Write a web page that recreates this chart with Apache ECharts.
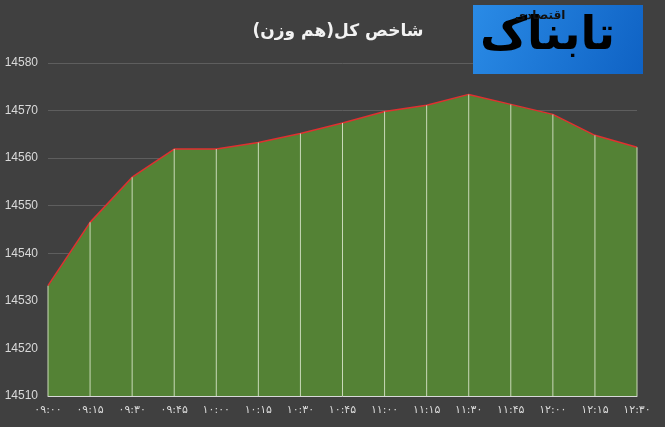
<!DOCTYPE html>
<html><head><meta charset="utf-8">
<script src="https://cdn.jsdelivr.net/npm/echarts@6/dist/echarts.min.js"></script>
<style>html,body{margin:0;padding:0;background:#404040;}#c{width:665px;height:427px;}</style>
</head><body><div id="c"></div>
<script>
const categories = ['۰۹:۰۰','۰۹:۱۵','۰۹:۳۰','۰۹:۴۵','۱۰:۰۰','۱۰:۱۵','۱۰:۳۰','۱۰:۴۵','۱۱:۰۰','۱۱:۱۵','۱۱:۳۰','۱۱:۴۵','۱۲:۰۰','۱۲:۱۵','۱۲:۳۰'];
const values = [14533.2,14546.5,14556.0,14561.9,14561.9,14563.3,14565.2,14567.4,14569.8,14571.1,14573.4,14571.3,14569.2,14564.8,14562.3];
const title = 'شاخص کل(هم وزن)';
const logoMain = 'تابناک';
const logoSub = 'اقتصادی';

const chart = echarts.init(document.getElementById('c'));
chart.setOption({
  backgroundColor: '#404040',
  animation: false,
  title: {
    text: title, left: 333, top: 18, textAlign: 'center',
    textStyle: {color: '#f2f2f2', fontSize: 17, fontWeight: 'bold', fontFamily: 'DejaVu Sans'}
  },
  grid: {left: 48, right: 28, top: 63, bottom: 31},
  xAxis: {
    type: 'category', data: categories, boundaryGap: false,
    axisLine: {lineStyle: {color: '#d9d9d9'}},
    axisTick: {show: false},
    axisLabel: {color: '#d9d9d9', fontSize: 11, margin: 9, fontFamily: 'DejaVu Sans', interval: 0},
    splitLine: {show: false}
  },
  yAxis: {
    type: 'value', min: 14510, max: 14580, interval: 10,
    axisLine: {show: false}, axisTick: {show: false},
    axisLabel: {color: '#d9d9d9', fontSize: 12, margin: 10, fontFamily: 'Liberation Sans', formatter: v => String(v)},
    splitLine: {lineStyle: {color: '#5e5e5e', width: 1}}
  },
  series: [
    {
      type: 'line', data: values, symbol: 'none',
      lineStyle: {color: '#e03030', width: 1.5},
      areaStyle: {color: '#548235', opacity: 1},
      z: 2
    },
    {
      type: 'bar', data: values, barWidth: 1,
      itemStyle: {color: '#c9d9b8'},
      z: 3, silent: true
    }
  ],
  graphic: [
    {type: 'rect', z: 100, shape: {x: 473, y: 5, width: 170, height: 69},
     style: {fill: new echarts.graphic.LinearGradient(0,0,1,1,[{offset:0,color:'#2a8be6'},{offset:1,color:'#0f62c4'}])}},
    {type: 'text', z: 101, left: 480, top: 14,
     style: {text: logoMain, fill: '#000', font: 'bold 46px "DejaVu Sans"'}},
    {type: 'text', z: 102, left: 515, top: 10,
     style: {text: logoSub, fill: '#111', font: 'bold 12px "DejaVu Sans"'}}
  ]
});
</script></body></html>
